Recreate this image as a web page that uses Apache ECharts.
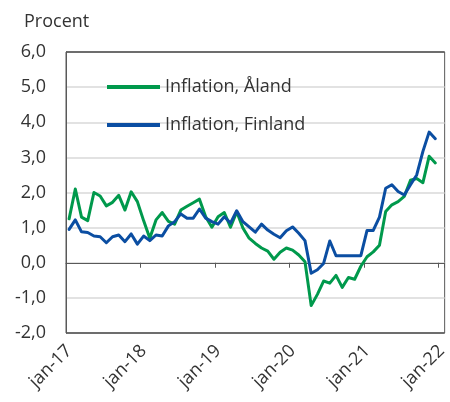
<!DOCTYPE html>
<html>
<head>
<meta charset="utf-8">
<script src="https://cdn.jsdelivr.net/npm/echarts@6/dist/echarts.min.js"></script>
<style>
  html, body { margin: 0; padding: 0; background: #fff; }
  #chart { width: 450px; height: 402px; }
</style>
</head>
<body>
<div id="chart"></div>
<script>
// monthly categories jan-17 .. jan-22 (last one has no data)
let monthNames = ['jan', 'feb', 'mar', 'apr', 'maj', 'jun', 'jul', 'aug', 'sep', 'okt', 'nov', 'dec'];
let years = ['17', '18', '19', '20', '21', '22'];
let months = [];
for (let y = 0; y < years.length; y++) {
    for (let m = 0; m < 12; m++) {
        if (y === years.length - 1 && m > 0) break;
        months.push(monthNames[m] + '-' + years[y]);
    }
}

// Inflation, Åland (procent)
let aland = [
    1.25, 2.1, 1.3, 1.2, 2.0, 1.9, 1.62, 1.72, 1.92, 1.5, 2.02, 1.74,
    1.2, 0.7, 1.22, 1.43, 1.18, 1.1, 1.5, 1.61, 1.71, 1.81, 1.31, 1.01,
    1.31, 1.43, 1.01, 1.45, 0.99, 0.7, 0.55, 0.42, 0.33, 0.1, 0.3, 0.42,
    0.36, 0.22, 0.03, -1.22, -0.9, -0.52, -0.58, -0.36, -0.7, -0.42, -0.47, -0.1,
    0.17, 0.31, 0.5, 1.46, 1.65, 1.74, 1.89, 2.35, 2.4, 2.28, 3.03, 2.84
];

// Inflation, Finland (procent)
let finland = [
    0.95, 1.22, 0.88, 0.86, 0.76, 0.74, 0.57, 0.74, 0.79, 0.6, 0.82, 0.53,
    0.76, 0.63, 0.79, 0.76, 1.05, 1.17, 1.39, 1.27, 1.27, 1.53, 1.27, 1.17,
    1.1, 1.31, 1.13, 1.48, 1.17, 1.02, 0.87, 1.1, 0.93, 0.81, 0.71, 0.91,
    1.02, 0.84, 0.63, -0.3, -0.2, -0.02, 0.62, 0.2, 0.2, 0.2, 0.2, 0.2,
    0.92, 0.92, 1.3, 2.12, 2.22, 2.03, 1.93, 2.22, 2.5, 3.17, 3.72, 3.53
];

let font = 'Open Sans';
let textColor = '#333333';
let axisColor = '#595959';
let gridColor = '#d9d9d9';

// light grid lines, dark at -2 and 6 (frame)
let splitColors = [axisColor, gridColor, gridColor, gridColor, gridColor, gridColor, gridColor, gridColor, axisColor];

let option = {
    animation: false,
    title: {
        text: 'Procent',
        left: 19,
        top: 8,
        textStyle: { fontFamily: font, fontSize: 18, fontWeight: 'normal', color: textColor }
    },
    grid: {
        left: 66, right: 2, top: 52, bottom: 69,
        show: true, borderColor: axisColor, borderWidth: 1
    },
    legend: {
        orient: 'vertical',
        left: 102,
        top: 72,
        icon: 'rect',
        itemWidth: 53,
        itemHeight: 4,
        itemGap: 18,
        textStyle: { fontFamily: font, fontSize: 18, color: textColor, lineHeight: 20 },
        data: ['Inflation, Åland', 'Inflation, Finland']
    },
    xAxis: [
        {
            type: 'category',
            data: months,
            boundaryGap: true,
            axisLine: { onZero: true, lineStyle: { color: axisColor, width: 1 } },
            axisTick: { show: true, interval: 11, length: 5, lineStyle: { color: axisColor } },
            axisLabel: { show: false },
            splitLine: { show: false }
        },
        {
            type: 'category',
            data: months,
            position: 'bottom',
            boundaryGap: true,
            axisLine: { show: false, onZero: false },
            axisTick: { show: false },
            axisLabel: {
                interval: 11, rotate: 45, margin: 15,
                fontFamily: font, fontSize: 18, color: textColor
            }
        }
    ],
    yAxis: {
        type: 'value',
        min: -2, max: 6, interval: 1,
        axisLine: { show: true, lineStyle: { color: axisColor, width: 1 } },
        axisTick: { show: false },
        axisLabel: {
            margin: 20,
            fontFamily: font, fontSize: 18, color: textColor,
            formatter: v => v.toFixed(1).replace('.', ',')
        },
        splitLine: { show: true, lineStyle: { color: splitColors, width: 1.5 } }
    },
    series: [
        {
            name: 'Inflation, Åland',
            type: 'line',
            data: aland,
            symbol: 'none',
            color: '#00994C',
            lineStyle: { width: 3, cap: 'round', join: 'round' }
        },
        {
            name: 'Inflation, Finland',
            type: 'line',
            data: finland,
            symbol: 'none',
            color: '#0B4EA2',
            lineStyle: { width: 3, cap: 'round', join: 'round' }
        }
    ]
};

let myChart = echarts.init(document.querySelector('#chart'));
myChart.setOption(option);
</script>
</body>
</html>
